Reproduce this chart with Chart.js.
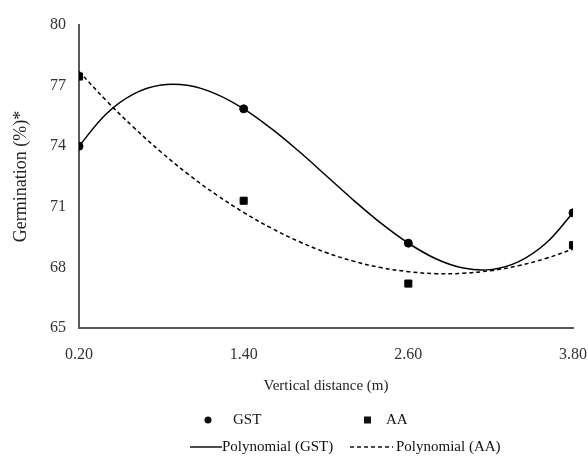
<!DOCTYPE html>
<html>
<head>
<meta charset="utf-8">
<script src="https://cdn.jsdelivr.net/npm/chart.js@4.4.0/dist/chart.umd.min.js"></script>
<style>
  html, body { margin: 0; padding: 0; background: #fff; }
  #wrap { width: 588px; height: 457px; }
</style>
</head>
<body>
<div id="wrap"><canvas id="germChart" width="588" height="457"></canvas></div>
<script>
// measured points
const distances = [0.2, 1.4, 2.6, 3.8];
const gstValues = [74.0, 75.85, 69.2, 70.7];
const aaValues = [77.45, 71.3, 67.2, 69.1];

// trendlines every 0.2 m
const trendX = [0.2, 0.4, 0.6, 0.8, 1.0, 1.2, 1.4, 1.6, 1.8, 2.0, 2.2, 2.4, 2.6, 2.8, 3.0, 3.2, 3.4, 3.6, 3.8];
const gstTrend = [74.0, 75.61, 76.59, 77.03, 77.0, 76.58, 75.85, 74.88, 73.76, 72.55, 71.33, 70.19, 69.2, 68.43, 67.97, 67.89, 68.27, 69.18, 70.7];
const aaTrend = [77.7, 76.25, 74.92, 73.7, 72.59, 71.6, 70.72, 69.95, 69.29, 68.74, 68.31, 67.99, 67.79, 67.69, 67.71, 67.84, 68.08, 68.44, 68.91];

const xTicks = [0.2, 1.4, 2.6, 3.8];
const yMin = 65, yMax = 80, yStep = 3;

const serif = "'Liberation Serif', 'Times New Roman', serif";
const axisGray = "#595959";
const textGray = "#333333";

const toXY = (xs, ys) => xs.map((x, i) => ({ x: x, y: ys[i] }));

// legend drawn like the Excel one: two rows of two
const excelLegend = {
  id: "excelLegend",
  afterDraw(chart) {
    const ctx = chart.ctx;
    ctx.save();
    ctx.fillStyle = "#111";
    ctx.strokeStyle = "#111";
    ctx.font = "15px " + serif;
    ctx.textBaseline = "middle";
    ctx.textAlign = "left";

    // row 1
    const y1 = 420;
    ctx.beginPath();
    ctx.arc(208, y1, 3.5, 0, Math.PI * 2);
    ctx.fill();
    ctx.fillText("GST", 233, y1);
    ctx.fillRect(364, y1 - 3.5, 7, 7);
    ctx.fillText("AA", 386, y1);

    // row 2
    const y2 = 447;
    ctx.lineWidth = 1.5;
    ctx.beginPath();
    ctx.moveTo(190, y2);
    ctx.lineTo(222, y2);
    ctx.stroke();
    ctx.fillText("Polynomial (GST)", 222, y2);
    ctx.setLineDash([4, 3]);
    ctx.beginPath();
    ctx.moveTo(350, y2);
    ctx.lineTo(393, y2);
    ctx.stroke();
    ctx.setLineDash([]);
    ctx.fillText("Polynomial (AA)", 396, y2);
    ctx.restore();
  },
};

const ctx = document.getElementById("germChart").getContext("2d");
new Chart(ctx, {
  type: "scatter",
  data: {
    datasets: [
      {
        label: "GST",
        data: toXY(distances, gstValues),
        pointStyle: "circle",
        pointRadius: 4,
        backgroundColor: "#000",
        borderColor: "#000",
        order: 0,
      },
      {
        label: "AA",
        data: toXY(distances, aaValues),
        pointStyle: "rect",
        pointRadius: 5,
        backgroundColor: "#000",
        borderColor: "#000",
        order: 0,
      },
      {
        label: "Polynomial (GST)",
        type: "line",
        data: toXY(trendX, gstTrend),
        showLine: true,
        pointRadius: 0,
        borderColor: "#000",
        borderWidth: 1.5,
        tension: 0.4,
        fill: false,
        order: 1,
      },
      {
        label: "Polynomial (AA)",
        type: "line",
        data: toXY(trendX, aaTrend),
        showLine: true,
        pointRadius: 0,
        borderColor: "#000",
        borderWidth: 1.5,
        borderDash: [4, 3],
        tension: 0.4,
        fill: false,
        order: 1,
      },
    ],
  },
  options: {
    responsive: false,
    animation: false,
    layout: { padding: { top: 25, right: 0, bottom: 62, left: 0 } },
    plugins: {
      legend: { display: false },
      tooltip: { enabled: false },
    },
    scales: {
      x: {
        type: "linear",
        min: xTicks[0],
        max: xTicks[xTicks.length - 1],
        afterBuildTicks: (scale) => {
          scale.ticks = xTicks.map((v) => ({ value: v }));
        },
        afterFit: (scale) => {
          scale.height = 67;
          scale.paddingRight = 15;
        },
        grid: { display: false, drawTicks: false },
        border: { display: true, color: axisGray, width: 2 },
        ticks: {
          padding: 17,
          color: textGray,
          font: { family: serif, size: 16 },
          callback: (v) => Number(v).toFixed(2),
        },
        title: {
          display: true,
          text: "Vertical distance (m)",
          color: "#222",
          font: { family: serif, size: 15 },
          padding: { top: 6, bottom: 0 },
        },
      },
      y: {
        min: yMin,
        max: yMax,
        afterFit: (scale) => {
          scale.width = 79;
        },
        grid: { display: false, drawTicks: false },
        border: { display: true, color: axisGray, width: 2 },
        ticks: {
          stepSize: yStep,
          padding: 13,
          color: textGray,
          font: { family: serif, size: 16 },
        },
        title: {
          display: true,
          text: "Germination (%)*",
          color: "#222",
          font: { family: serif, size: 18 },
          padding: { top: 10, bottom: 0 },
        },
      },
    },
  },
  plugins: [excelLegend],
});
</script>
</body>
</html>
